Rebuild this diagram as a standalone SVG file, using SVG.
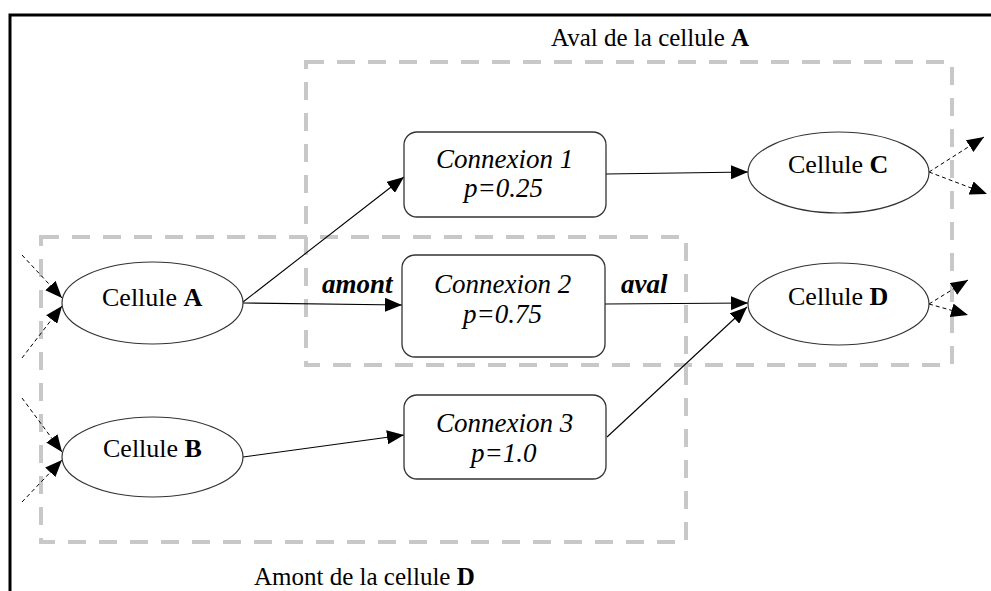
<svg xmlns="http://www.w3.org/2000/svg" width="991" height="591" viewBox="0 0 991 591">
<style>
text{font-family:"Liberation Serif","Times New Roman",serif;font-size:25px;fill:#000}
.it{font-style:italic;font-size:27px}
.bi{font-style:italic;font-weight:bold;font-size:27px}
.c{font-size:26px}
.b{font-weight:bold}
.cell{fill:#fff;stroke:#333;stroke-width:1.2}
.box{fill:#fff;stroke:#333;stroke-width:1.3}
.zone{fill:none;stroke:#c8c8c8;stroke-width:4;stroke-dasharray:18 13}
.e{fill:none;stroke:#000;stroke-width:1.1}
.d{fill:none;stroke:#000;stroke-width:1;stroke-dasharray:4 3}
</style>
<defs>
<marker id="ah" markerUnits="userSpaceOnUse" markerWidth="18" markerHeight="14" refX="17" refY="7" orient="auto">
<path d="M0,0 L17,7 L0,14 z" fill="#000"/>
</marker>
</defs>
<rect x="0" y="0" width="991" height="591" fill="#fff"/>
<rect x="10" y="15" width="1000" height="600" fill="none" stroke="#000" stroke-width="3"/>
<g id="zones">
<rect class="zone" x="306" y="62" width="646" height="303"/>
<rect class="zone" x="41" y="237" width="645" height="305"/>
<text x="551" y="46">Aval de la cellule <tspan class="b">A</tspan></text>
<text x="254" y="585">Amont de la cellule <tspan class="b">D</tspan></text>
</g>
<g id="connectors">
<line class="e" x1="243" y1="302" x2="404" y2="177" marker-end="url(#ah)"/>
<line class="e" x1="243" y1="303" x2="402" y2="305" marker-end="url(#ah)"/>
<line class="e" x1="243" y1="457" x2="404" y2="435" marker-end="url(#ah)"/>
<line class="e" x1="606" y1="174" x2="748" y2="172" marker-end="url(#ah)"/>
<line class="e" x1="605" y1="304" x2="748" y2="303" marker-end="url(#ah)"/>
<line class="e" x1="607" y1="437" x2="747" y2="307" marker-end="url(#ah)"/>
<line class="d" x1="22" y1="255" x2="62" y2="298" marker-end="url(#ah)"/>
<line class="d" x1="22" y1="358" x2="62" y2="306" marker-end="url(#ah)"/>
<line class="d" x1="22" y1="398" x2="62" y2="452" marker-end="url(#ah)"/>
<line class="d" x1="22" y1="502" x2="62" y2="460" marker-end="url(#ah)"/>
<line class="d" x1="929" y1="172" x2="984" y2="137" marker-end="url(#ah)"/>
<line class="d" x1="929" y1="172" x2="987" y2="194" marker-end="url(#ah)"/>
<line class="d" x1="929" y1="304" x2="968" y2="280" marker-end="url(#ah)"/>
<line class="d" x1="929" y1="304" x2="968" y2="315" marker-end="url(#ah)"/>
<text class="bi" x="322" y="293">amont</text>
<text class="bi" x="621" y="293">aval</text>
</g>
<g id="cellA"><ellipse class="cell" cx="152.5" cy="303" rx="90.5" ry="41"/><text class="c" x="102" y="306">Cellule <tspan class="b">A</tspan></text></g>
<g id="cellB"><ellipse class="cell" cx="152.5" cy="457" rx="90.5" ry="40"/><text class="c" x="103" y="457">Cellule <tspan class="b">B</tspan></text></g>
<g id="cellC"><ellipse class="cell" cx="838.5" cy="172.5" rx="90.5" ry="40.5"/><text class="c" x="788" y="173">Cellule <tspan class="b">C</tspan></text></g>
<g id="cellD"><ellipse class="cell" cx="838.5" cy="304" rx="90.5" ry="41"/><text class="c" x="788" y="305">Cellule <tspan class="b">D</tspan></text></g>
<g id="conn1"><rect class="box" x="404" y="132" width="202" height="85" rx="13"/><text class="it" x="436" y="168">Connexion 1</text><text class="it" x="464" y="197">p=0.25</text></g>
<g id="conn2"><rect class="box" x="402" y="255" width="203" height="102" rx="13"/><text class="it" x="434" y="293">Connexion 2</text><text class="it" x="463" y="323">p=0.75</text></g>
<g id="conn3"><rect class="box" x="404" y="395" width="202" height="84" rx="13"/><text class="it" x="436" y="432">Connexion 3</text><text class="it" x="471" y="462">p=1.0</text></g>
</svg>
